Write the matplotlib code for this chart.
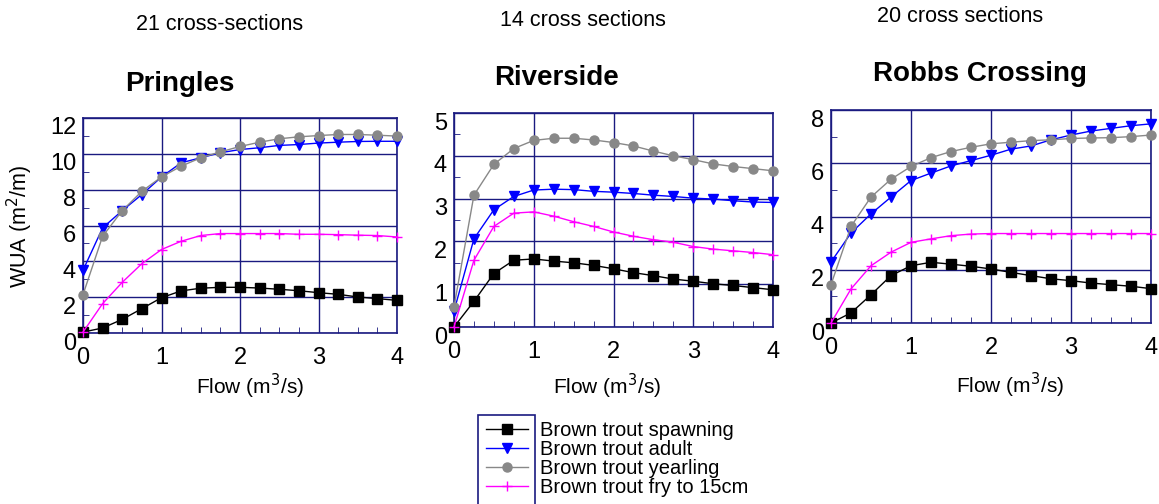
import numpy as np
import matplotlib
matplotlib.use("Agg")
import matplotlib.pyplot as plt
import matplotlib.transforms as mtransforms
from matplotlib.patches import Rectangle
from matplotlib.lines import Line2D

plt.rcParams['font.family'] = ['Liberation Sans', 'DejaVu Sans']

flow = np.arange(0, 4.01, 0.25)

# Pringles
pr_spawn = [0.05, 0.28, 0.76, 1.36, 1.97, 2.35, 2.50, 2.55, 2.55, 2.51, 2.44, 2.36, 2.25, 2.16, 2.01, 1.92, 1.82]
pr_adult = [3.50, 5.87, 6.83, 7.73, 8.71, 9.50, 9.78, 10.06, 10.24, 10.34, 10.47, 10.52, 10.60, 10.65, 10.69, 10.70, 10.70]
pr_year = [2.14, 5.40, 6.83, 7.91, 8.71, 9.31, 9.78, 10.11, 10.41, 10.65, 10.84, 10.95, 11.02, 11.08, 11.08, 11.04, 10.99]
pr_fry = [0.05, 1.64, 2.83, 3.87, 4.66, 5.12, 5.44, 5.55, 5.55, 5.55, 5.55, 5.51, 5.51, 5.49, 5.46, 5.44, 5.36]

# Riverside
rv_spawn = [0.00, 0.60, 1.25, 1.56, 1.59, 1.54, 1.50, 1.44, 1.36, 1.27, 1.20, 1.12, 1.07, 1.01, 0.97, 0.92, 0.87]
rv_adult = [0.37, 2.06, 2.74, 3.05, 3.20, 3.22, 3.21, 3.17, 3.15, 3.12, 3.08, 3.05, 3.01, 2.99, 2.95, 2.92, 2.91]
rv_year = [0.47, 3.08, 3.80, 4.17, 4.36, 4.41, 4.41, 4.37, 4.31, 4.23, 4.11, 4.00, 3.91, 3.81, 3.75, 3.70, 3.65]
rv_fry = [0.00, 1.56, 2.35, 2.66, 2.69, 2.59, 2.46, 2.35, 2.22, 2.12, 2.04, 1.98, 1.88, 1.82, 1.78, 1.74, 1.69]

# Robbs Crossing
rb_spawn = [0.00, 0.38, 1.06, 1.78, 2.15, 2.28, 2.21, 2.13, 2.03, 1.90, 1.78, 1.66, 1.59, 1.50, 1.44, 1.38, 1.29]
rb_adult = [2.29, 3.38, 4.10, 4.73, 5.35, 5.63, 5.90, 6.10, 6.30, 6.53, 6.65, 6.88, 7.06, 7.21, 7.31, 7.41, 7.48]
rb_year = [1.44, 3.63, 4.73, 5.40, 5.88, 6.21, 6.44, 6.60, 6.73, 6.79, 6.85, 6.88, 6.93, 6.95, 6.96, 7.00, 7.06]
rb_fry = [0.00, 1.28, 2.15, 2.66, 3.03, 3.16, 3.28, 3.34, 3.36, 3.36, 3.36, 3.36, 3.36, 3.36, 3.36, 3.36, 3.36]

sites = ["Pringles", "Riverside", "Robbs Crossing"]
notes = ["21 cross-sections", "14 cross sections", "20 cross sections"]
ymax = [12, 5, 8]
ystep = [2, 1, 2]
series_names = ["Brown trout spawning", "Brown trout adult",
                "Brown trout yearling", "Brown trout fry to 15cm"]

data = [
    [pr_spawn, pr_adult, pr_year, pr_fry],
    [rv_spawn, rv_adult, rv_year, rv_fry],
    [rb_spawn, rb_adult, rb_year, rb_fry],
]

styles = [
    dict(color='black', marker='s', markersize=6.5, markerfacecolor='black'),
    dict(color='#0000ff', marker='v', markersize=7, markerfacecolor='#0000ff'),
    dict(color='#888888', marker='o', markersize=6.5, markerfacecolor='#888888'),
    dict(color='#ff00ff', marker='+', markersize=7, markeredgewidth=1),
]

navy = '#1a1a80'
W, H = 1159, 504
fig = plt.figure(figsize=(W / 100, H / 100), dpi=100)

# axes boxes in pixels: left, right, top, bottom
boxes = [(83, 397, 118, 333), (454, 773, 113, 327), (831, 1151, 110, 323)]
title_pos = [(180, 84), (557, 78), (980, 74)]
note_pos = [(220, 25), (583, 20), (960, 17)]
xlab_pos = [(250, 386), (607, 386), (1010, 385)]

for i, (l, r, t, b) in enumerate(boxes):
    ax = fig.add_axes([l / W, 1 - b / H, (r - l) / W, (b - t) / H])
    for vals, st in zip(data[i], styles):
        ax.plot(flow, vals, linewidth=1, clip_on=False, zorder=3, **st)
    ax.set_xlim(0, 4)
    ax.set_ylim(0, ymax[i])
    ax.set_xticks(np.arange(0, 5, 1))
    ax.set_xticks(np.arange(0, 4.01, 0.25), minor=True)
    ax.set_yticks(np.arange(0, ymax[i] + 0.1, ystep[i]))
    ax.set_yticks(np.arange(0, ymax[i] + 0.1, ystep[i] / 2), minor=True)
    ax.grid(True, which='major', color=navy, linewidth=1)
    for s in ax.spines.values():
        s.set_color(navy)
        s.set_linewidth(1.2)
    ax.tick_params(which='both', direction='in', color=navy, top=False, right=False)
    ax.tick_params(which='minor', length=4)
    ax.tick_params(which='major', length=0, labelsize=17)
    ax.tick_params(axis='x', which='major', pad=10)
    ax.tick_params(axis='y', which='major', pad=5)
    shift = mtransforms.ScaledTranslation(0, -8 / 100, fig.dpi_scale_trans)
    for lab in ax.get_yticklabels():
        lab.set_transform(lab.get_transform() + shift)

    fig.text(title_pos[i][0] / W, 1 - title_pos[i][1] / H, sites[i],
             fontsize=20, fontweight='bold', ha='center', va='center')
    fig.text(note_pos[i][0] / W, 1 - note_pos[i][1] / H, notes[i],
             fontsize=15.5, ha='center', va='center')
    fig.text(xlab_pos[i][0] / W, 1 - xlab_pos[i][1] / H, 'Flow (m$^3$/s)',
             fontsize=15, ha='center', va='center')

fig.text(20 / W, 1 - 226 / H, 'WUA (m$^2$/m)', fontsize=15.5,
         rotation=90, ha='center', va='center')

# legend: box around the symbols only, labels to the right
handles = [Line2D([], [], linewidth=1, **st) for st in styles]
fig.legend(handles, series_names, loc='upper left',
           bbox_to_anchor=(486 / W, 1 - 421 / H), frameon=False,
           fontsize=14.5, handlelength=2.1, handletextpad=0.6,
           labelspacing=0.0, borderpad=0, borderaxespad=0)
fig.patches.append(Rectangle((478 / W, -0.02), 57 / W, (504 - 415) / H + 0.02,
                             transform=fig.transFigure, fill=False,
                             edgecolor=navy, linewidth=1.2))

fig.savefig('out.png', dpi=100)
